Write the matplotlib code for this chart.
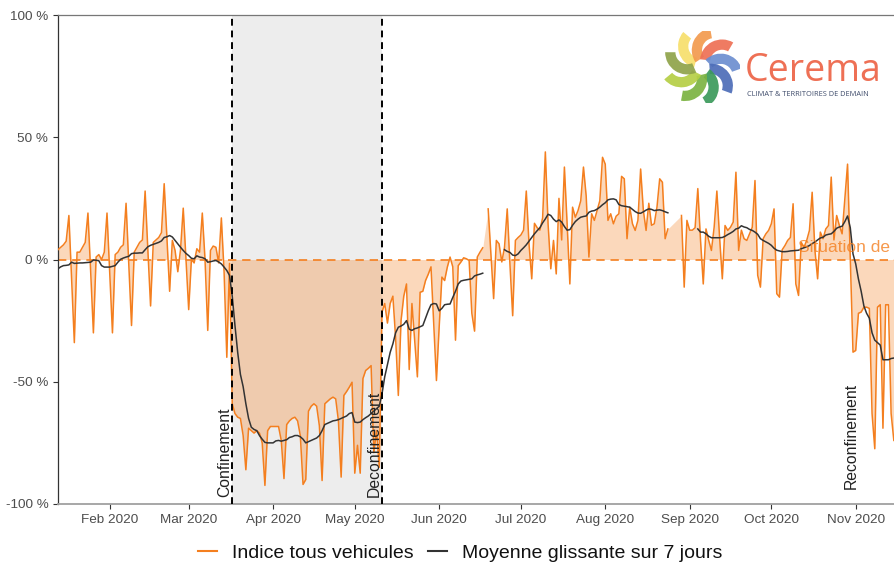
import numpy as np
import pandas as pd
import matplotlib
matplotlib.use("Agg")
import matplotlib.pyplot as plt
import matplotlib.dates as mdates
from matplotlib.patches import Wedge
from matplotlib.lines import Line2D

# ---------------- data (daily, Mon 13 Jan 2020 -> Sun 15 Nov 2020) ----------------
start_date = "2020-01-13"
n_days = 308
nan = np.nan

indice = [
    4, 5, 6, 7.5, 18, -8, -34,            # Jan 13
    3, 3, 5, 7, 19, -5, -30,              # Jan 20
    1, 2, 0, 3, 19, -6, -30,              # Jan 27
    2, 3, 5, 6, 23, -2, -27,              # Feb 3
    3, 5, 7, 8, 28, 4, -19,               # Feb 10
    7, 8, 9, 11, 31, 9, -13,              # Feb 17
    7.8, 3.7, -5, 4, 21, 0, -20.5,        # Feb 24
    0, -1.4, 4.4, 3, 19, 0, -29,          # Mar 2
    3.7, 5.5, 5, -1.4, 17, -5, -40,       # Mar 9
    -1.6, -59, -63, -64.5, -65, -72, -86,  # Mar 16
    -69, -70, -71, -70, -71, -75, -92.4,   # Mar 23
    -70, -68.3, -68.3, -68.3, -68.3, -74, -89.6,  # Mar 30
    -67.5, -66, -65, -64.5, -66, -72, -92,  # Apr 6
    -90, -62, -60, -59, -60, -68, -90.4,   # Apr 13
    -59, -58, -57, -56.3, -57, -66, -89,   # Apr 20
    -55.6, -54, -52.2, -50.2, -87.4, -76, -87.4,  # Apr 27
    -48.7, -45.4, -44.5, -43.4, -79, -70, -85,    # May 4
    -21.5, -18, -26, -18, -15, -32, -55.6,  # May 11
    -25, -15, -10, -45, -18, -33, -48,      # May 18
    -13.4, -13, -8.6, -6, -3, -26, -49.5,   # May 25
    -27.7, -7.2, -8.6, -3.1, 1, -3, -33,    # Jun 1
    -2.5, -1, 0.7, 0.3, -0.4, -22, -29.3,   # Jun 8
    1, 3, 4.8, nan, 20.7, 2, -16,           # Jun 15
    7.8, 6.4, -1, 5, 20.7, -2, -23,         # Jun 22
    7.8, 9, 10, 12, 28, 6.4, -7.9,          # Jun 29
    14.8, 13, 12, 17, 44, 14.6, -3.8,       # Jul 6
    7.8, -5.9, 25, 8, 37.8, 14.6, -10,      # Jul 13
    21.4, 17.3, 20, 24, 37.8, 26, 1,        # Jul 20
    18.7, 16, 20, 24, 41.8, 39, 16,         # Jul 27
    18.7, 14.6, 17.7, 18.7, 34, 33, 8.5,    # Aug 3
    21.4, 14.6, 11.9, 16, 37, 20, 11.9,     # Aug 10
    23, 14, 14.6, 21.4, 33, 31.6, 8.5,      # Aug 17
    12.5, nan, nan, nan, nan, 18, -11.3,    # Aug 24
    16, 12, 12, 13, 29, 7.8, -10,           # Aug 31
    12.5, 7.8, 3.7, 13.2, 28, 9, -7.9,      # Sep 7
    13.9, 11.9, 13.2, 15.3, 35.7, 3.7, 12,  # Sep 14
    8.5, 7.8, 10.5, 13.2, 32.3, -6.5, -11.3,  # Sep 21
    8.5, 10.5, 11.9, 14.6, 20.7, -14, -15.4,  # Sep 28
    4, 5.7, 7.8, 9, 22.8, -10, -14.7,       # Oct 5
    7, 5, 7.8, 11.9, 27.5, 4, -7.9,         # Oct 12
    11.2, 8.5, 12.5, 13.9, 33.7, 8, 18,     # Oct 19
    13.9, 10.5, 24.8, 39, 0, -37.9, -37.2,  # Oct 26
    -22, -21.5, -19.5, -19.5, -20, -63, -77.4,  # Nov 2
    -19.5, -18.5, -69, -18.5, -18.5, -63, -74,  # Nov 9
]

moyenne = [
    -3.8, -3.0, -2.5, -2.4, -2.2, -1.1, -1.6,
    -1.5, -1.4, -1.4, -1.3, -1.2, -1.1, -0.2,
    -0.3, -0.5, -2.5, -3.1, -3.1, -3.1, -2.8,
    -2.5, -1.1, 0.1, 0.6, 1.0, 1.3, 2.4,
    2.6, 2.6, 2.7, 2.7, 4.0, 5.2, 5.8,
    6.2, 6.6, 7.0, 7.6, 9.0, 9.3, 9.8,
    9.2, 7.8, 6.4, 5.0, 3.7, 2.5, 1.6,
    0.5, 0.3, 1.5, 1.0, 0.8, 0.3, -1.1,
    -0.9, -0.6, -0.4, -1.0, -1.8, -3.1, -4.5,
    -6.5, -15, -27, -38, -47, -52, -59,
    -65, -68.6, -69.5, -70, -72, -73.5, -74.8,
    -75, -75, -75, -74.2, -74, -74.3, -74,
    -73.7, -72.8, -72.5, -72, -72, -72.5, -73.5,
    -75, -74.5, -74, -73.5, -73, -72, -70,
    -67.5, -67, -66.5, -66, -65.8, -65.5, -65,
    -64.5, -64, -63, -62.6, -66.5, -66.7, -66.5,
    -65.5, -64.7, -64, -63, -62, -61, -60,
    -55, -48, -43, -38, -34.5, -30, -27.7,
    -27.2, -26.5, -25, -28.5, -29, -28.3, -28,
    -27.5, -27, -24, -21, -18.5, -18, -18.2,
    -21, -20, -18.5, -18.3, -18.2, -15.5, -13,
    -10, -8.8, -8.5, -8.3, -8.1, -7.9, -6.7,
    -6.3, -6, -5.6, nan, nan, nan, nan,
    nan, nan, nan, 4, 3.3, 2.9, 1.8,
    1.6, 2.3, 3.7, 4.8, 6, 7.5, 9,
    10.5, 11.8, 13, 15, 16.6, 18.5, 18,
    16.5, 15.5, 16.2, 15.3, 13.5, 12, 12.2,
    14, 15.5, 16.5, 17.3, 17.6, 17.8, 19.3,
    19.8, 20, 20.6, 21.4, 22.4, 23.2, 24.4,
    24.7, 24.8, 24.4, 22.5, 22, 21.8, 21.6,
    21.4, 20.5, 19.6, 19, 18.9, 19.5, 20.2,
    20.7, 20.5, 20, 20.2, 20.3, 20, 19.5,
    19.1, nan, nan, nan, nan, nan, nan,
    nan, nan, nan, nan, 12.5, 11.2, 11.2,
    10.5, 9.5, 8.9, 8.9, 8.9, 8.9, 9,
    9.5, 10.2, 10.8, 11.5, 12.5, 12.8, 13.8,
    13.3, 13, 12.3, 11.9, 11.2, 10.3, 8.5,
    7.8, 7.2, 6.6, 5.8, 4.6, 3.8, 3.5,
    3.2, 3.2, 3.3, 3.5, 3.6, 3.7, 3.8,
    4.4, 4.8, 5.2, 5.7, 6.5, 7.1, 8,
    8.8, 9.1, 10, 10.3, 10.5, 11.5, 12.8,
    13.3, 13.6, 15.5, 17.8, 13, 2.3, -1.8,
    -8, -13, -19, -22, -24, -30, -33,
    -34, -35, -41, -41, -41, -40.5, -40.3,
]

events = ["Confinement", "Deconfinement", "Reconfinement"]
event_dates = ["2020-03-17", "2020-05-11", "2020-11-02"]
lockdown = ("2020-03-17", "2020-05-11")
y_ticks = [-100, -50, 0, 50, 100]
y_labels = ["-100 %", "-50 %", "0 %", "50 %", "100 %"]
series_labels = ["Indice tous vehicules", "Moyenne glissante sur 7 jours"]
ref_label = "Situation de référence"

# ---------------- styling ----------------
ORANGE = "#F47F1F"
DARK = "#333333"
plt.rcParams["font.family"] = ["Liberation Sans", "DejaVu Sans"]

dates = pd.date_range(start_date, periods=n_days, freq="D")
df = pd.DataFrame({"date": dates, "indice": indice, "moyenne": moyenne})

fig = plt.figure(figsize=(8.94, 5.65), dpi=100)
ax = fig.add_axes([58 / 894, 61 / 565, 836 / 894, 489 / 565])

# lockdown band
ax.axvspan(pd.Timestamp(lockdown[0]), pd.Timestamp(lockdown[1]),
           color="#EDEDED", zorder=0, lw=0)

# fill between index and 0 (valid points only)
valid = df.dropna(subset=["indice"])
ax.fill_between(valid["date"], valid["indice"], 0, interpolate=True,
                color=ORANGE, alpha=0.3, lw=0, zorder=1)

# reference line
ax.axhline(0, color=ORANGE, lw=1.2, ls=(0, (5, 3.5)), zorder=2)

ax.plot(df["date"], df["indice"], color=ORANGE, lw=1.1, zorder=3)
ax.plot(df["date"], df["moyenne"], color=DARK, lw=1.1, zorder=4)

for d in lockdown:
    ax.axvline(pd.Timestamp(d), color="black", lw=1.4, ls=(0, (3.5, 2.5)), zorder=5)

for name, d in zip(events, event_dates):
    y0 = -97.3 if name != "Reconfinement" else -94
    ax.text(pd.Timestamp(d), y0, name, rotation=90, ha="right", va="bottom",
            fontsize=11.3, color="#222222", zorder=6)

ax.text(pd.Timestamp("2020-10-10") + pd.Timedelta(hours=17), 3, ref_label,
        color=ORANGE, alpha=0.8, fontsize=12.5, va="baseline", ha="left",
        zorder=6, clip_on=False)

ax.set_xlim(pd.Timestamp(start_date), pd.Timestamp(start_date) + pd.Timedelta(days=307.06))
ax.set_ylim(-100, 100)
ax.set_yticks(y_ticks)
ax.set_yticklabels(y_labels)
ax.xaxis.set_major_locator(mdates.MonthLocator(bymonth=range(2, 12)))
ax.xaxis.set_major_formatter(mdates.DateFormatter("%b %Y"))
ax.tick_params(axis="both", labelsize=9.7, labelcolor="#4D4D4D", color="#333333",
               length=3.5, width=0.8)
ax.tick_params(axis="x", pad=4)

ax.spines["right"].set_visible(False)
ax.spines["left"].set_color("#333333")
ax.spines["left"].set_linewidth(0.9)
ax.spines["top"].set_color("#777777")
ax.spines["top"].set_linewidth(0.9)
ax.spines["bottom"].set_color("#A0A0A0")
ax.spines["bottom"].set_linewidth(1.3)
ax.set_facecolor("white")

# legend
handles = [Line2D([], [], color=ORANGE, lw=1.5), Line2D([], [], color=DARK, lw=1.5)]
fig.legend(handles, series_labels, loc="center", bbox_to_anchor=(0.515, 12 / 565),
           ncol=2, frameon=False, fontsize=14, handlelength=0.95,
           handletextpad=0.8, columnspacing=0.75, labelcolor="#111111")

# ---------------- logo ----------------
lax = fig.add_axes([662 / 894, 1 - 103 / 565, 80 / 894, 72 / 565])
lax.set_xlim(-1.1, 1.1)
lax.set_ylim(-1.05, 1.05)
lax.set_aspect("equal")
lax.axis("off")
logo_cols = ["#F7DF6B", "#F39A4E", "#EE7055", "#6C8ED0", "#4D6DB8",
             "#3C9A5B", "#7CB342", "#B5CF45", "#8FA34A"]
n_arm = len(logo_cols)
for k, col in enumerate(logo_cols):
    phi = np.deg2rad(115 - 360 / n_arm * k)
    T = 1.02 * np.array([np.cos(phi), np.sin(phi)])
    S = 0.22 * np.array([np.cos(phi + 1.0), np.sin(phi + 1.0)])
    M = (T + S) / 2
    perp = np.array([np.sin(phi), -np.cos(phi)])
    C = M + 0.30 * perp
    r = np.linalg.norm(T - C)
    a1 = np.degrees(np.arctan2(S[1] - C[1], S[0] - C[0]))
    a2 = np.degrees(np.arctan2(T[1] - C[1], T[0] - C[0]))
    if (a2 - a1) % 360 > 180:
        a1, a2 = a2, a1
    lax.add_patch(Wedge(tuple(C), r + 0.15, a1, a2, width=0.30, color=col,
                        alpha=0.92, lw=0))

fig.text(745 / 894, 1 - 81 / 565, "Cerema", fontsize=27, color="#EE7055",
         family=["Open Sans", "DejaVu Sans"], va="baseline", ha="left")
fig.text(747 / 894, 1 - 96 / 565, "CLIMAT & TERRITOIRES DE DEMAIN", fontsize=5.3,
         color="#3F4C6B", family=["Open Sans", "DejaVu Sans"], va="baseline", ha="left")

fig.savefig("out.png", dpi=100)
